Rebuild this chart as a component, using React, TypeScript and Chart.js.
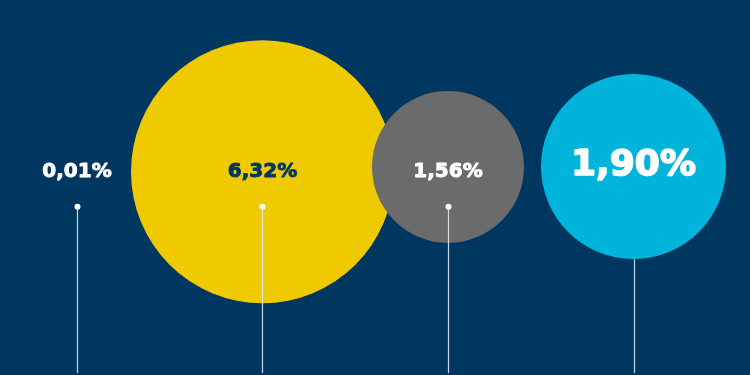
import React, { useEffect, useRef } from "react";
import { Chart, registerables } from "chart.js";

Chart.register(...registerables);

// ---- data ----
const categories = ["A", "B", "C", "D"];
const values = [0.01, 6.32, 1.56, 1.9];
const valueLabels = ["0,01%", "6,32%", "1,56%", "1,90%"];

// ---- styles / layout ----
const BG = "#003761";
const bubbleColors = ["#FFFFFF", "#F0CA00", "#6B6B6B", "#00B4DC"];
const textColors = ["#FFFFFF", "#003761", "#FFFFFF", "#FFFFFF"];
const fontSizes = [20, 20, 20, 36];
const bubblePx = [0, 131.5, 76, 92.5];
const bubbleLevel = [54.1, 54.2, 55.5, 55.6];
const labelLevel = [54.1, 54.1, 54.1, 55.7];
const stemTop = [44.9, 44.9, 44.9, 30.9];
const showDot = [true, true, true, false];
const STEM_BOTTOM = 0.5;

const overlay = {
  id: "overlay",
  beforeDraw(chart: any) {
    const { ctx, width, height } = chart;
    ctx.save();
    ctx.fillStyle = BG;
    ctx.fillRect(0, 0, width, height);
    ctx.restore();
  },
  afterDatasetsDraw(chart: any) {
    const { ctx } = chart;
    const xs = chart.scales.x;
    const ys = chart.scales.y;
    ctx.save();
    categories.forEach((_, i) => {
      const x = Math.round(xs.getPixelForValue(i)) + 0.5;
      const yTop = ys.getPixelForValue(stemTop[i]);
      const yBot = ys.getPixelForValue(STEM_BOTTOM);
      ctx.strokeStyle = "rgba(225,232,240,0.9)";
      ctx.lineWidth = 1.2;
      ctx.beginPath();
      ctx.moveTo(x, yTop);
      ctx.lineTo(x, yBot);
      ctx.stroke();
      if (showDot[i]) {
        ctx.fillStyle = "#FFFFFF";
        ctx.beginPath();
        ctx.arc(x, yTop, 3, 0, Math.PI * 2);
        ctx.fill();
      }
      const tx = xs.getPixelForValue(i);
      const ty = ys.getPixelForValue(labelLevel[i]);
      ctx.fillStyle = textColors[i];
      ctx.strokeStyle = textColors[i];
      ctx.lineWidth = fontSizes[i] > 30 ? 1.6 : 0.9;
      ctx.lineJoin = "round";
      ctx.font = `bold ${fontSizes[i]}px "DejaVu Sans"`;
      ctx.textAlign = "center";
      ctx.textBaseline = "middle";
      ctx.fillText(valueLabels[i], tx, ty);
      ctx.strokeText(valueLabels[i], tx, ty);
    });
    ctx.restore();
  },
};

export default function App() {
  const ref = useRef<HTMLCanvasElement>(null);
  useEffect(() => {
    document.body.style.margin = "0";
    const chart = new Chart(ref.current!, {
      type: "bubble",
      data: {
        datasets: [
          {
            label: "values",
            data: values.map((v, i) => ({ x: i, y: bubbleLevel[i], r: bubblePx[i], v })) as any,
            backgroundColor: bubbleColors,
            borderWidth: 0,
            hoverRadius: 0,
            clip: false as any,
          },
        ],
      },
      options: {
        responsive: false,
        animation: false,
        layout: { padding: 0, autoPadding: false } as any,
        plugins: { legend: { display: false }, tooltip: { enabled: false } },
        events: [],
        scales: {
          x: { type: "linear", display: false, min: -0.415, max: 3.628 },
          y: { type: "linear", display: false, min: 0, max: 100 },
        },
      },
      plugins: [overlay],
    });
    return () => chart.destroy();
  }, []);
  return (
    <div style={{ position: "fixed", left: 0, top: 0, width: 750, height: 375, background: BG }}>
      <canvas ref={ref} width={750} height={375} />
    </div>
  );
}
